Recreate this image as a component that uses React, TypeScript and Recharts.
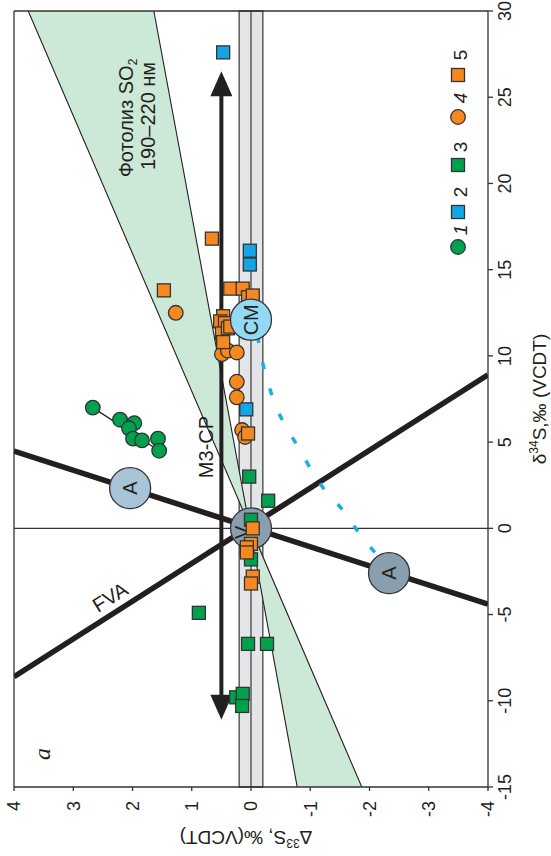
import React from 'react'
import {
  Area,
  ComposedChart,
  Line,
  ReferenceArea,
  ReferenceLine,
  Scatter,
  XAxis,
  YAxis,
} from 'recharts'

// chart is drawn "upright" (δ34S across, Δ33S up) and then turned 90° ccw
const W = 856
const H = 551

const d34Ticks = [-15, -10, -5, 0, 5, 10, 15, 20, 25, 30]
const d33Ticks = [-4, -3, -2, -1, 0, 1, 2, 3, 4]

// [δ34S, Δ33S]
const group1 = [[7.0, 2.67], [6.3, 2.21], [6.1, 1.97], [5.8, 2.06], [5.2, 1.99], [5.1, 1.84], [5.2, 1.57], [4.5, 1.55]]
const group1Trend = [[7.0, 2.67], [4.5, 1.55]]
const group2 = [[27.6, 0.47], [16.1, 0.02], [15.3, 0.02], [6.9, 0.08]]
const group3 = [[-4.9, 0.88], [-6.7, 0.05], [-6.7, -0.27], [-9.8, 0.25], [-9.6, 0.14], [-10.3, 0.15], [3.0, 0.03], [1.6, -0.29], [0.5, 0.0], [-1.8, 0.0]]
const group4 = [[12.5, 1.27], [10.1, 0.49], [10.3, 0.39], [10.2, 0.24], [8.5, 0.24], [7.6, 0.24], [5.7, 0.15], [5.3, 0.1]]
const group5 = [[13.8, 1.47], [16.8, 0.66], [13.9, 0.35], [13.9, 0.14], [13.4, 0.05], [13.5, -0.03], [12.3, 0.47], [12.0, 0.52], [11.9, 0.44], [11.3, 0.49], [11.6, 0.39], [10.8, 0.47], [11.7, 0.35], [5.5, 0.05], [0.0, -0.03], [-0.9, 0.0], [-1.1, 0.07], [-1.4, 0.07], [-2.8, -0.03], [-3.2, 0.0]]

const fvaLine = [[-8.6, 4], [8.9, -4]]
const aLine = [[-4.4, -4], [4.48, 4]]
const mixCurve = [[-1.4, -2.09], [-0.2, -1.81], [1.1, -1.54], [2.2, -1.25], [3.5, -1.0], [4.8, -0.78], [6.2, -0.54], [9.0, -0.24], [11.4, -0.1]]
const arrowShaft = [[-10.0, 0.5], [25.4, 0.5]]
const arrowTips = [{ x: 26.5, y: 0.5, dir: 1 }, { x: -11.1, y: 0.5, dir: -1 }]

// photolysis wedge: [low, high] Δ33S at a given δ34S
const photolysis = [
  { x: -15, v: [-1.87, -0.78] },
  { x: 0.2, v: [0.03, 0.03] },
  { x: 30, v: [1.64, 3.76] },
]

const nodes = [
  { x: 2.33, y: 2.04, label: 'A', fill: '#a8c4d7' },
  { x: 0, y: 0, label: 'V', fill: '#8a9fad' },
  { x: -2.6, y: -2.33, label: 'A', fill: '#8a9fad' },
]
const cmNode = [{ x: 12.1, y: 0, label: 'СМ', fill: '#93d8f4' }]

const pts = (a: number[][]) => a.map(([x, y]) => ({ x, y }))

const C = {
  green: '#00a14e',
  blue: '#14a6e4',
  orange: '#f5891f',
  edge: '#333',
  ink: '#231f20',
}
const font = '"Liberation Sans", Arial, sans-serif'

const sq = (fill: string) => (p: any) => (
  <rect x={p.cx - 6.5} y={p.cy - 6.5} width={13} height={13} fill={fill} stroke={C.edge} strokeWidth={1.3} />
)
const dot = (fill: string) => (p: any) => (
  <circle cx={p.cx} cy={p.cy} r={7.3} fill={fill} stroke={C.edge} strokeWidth={1.3} />
)
const nodeShape = (p: any) => (
  <g>
    <circle cx={p.cx} cy={p.cy} r={20.5} fill={p.payload.fill} stroke={C.edge} strokeWidth={1.3} />
    <text
      x={p.payload.label === 'V' ? p.cx - 4 : p.cx}
      y={p.payload.label === 'V' ? p.cy - 9 : p.cy}
      dy="0.36em"
      textAnchor="middle"
      fontSize={20}
      fill={C.ink}
      fontFamily={font}
    >
      {p.payload.label}
    </text>
  </g>
)
const headShape = (p: any) => {
  const b = p.cx - p.payload.dir * 25
  return <polygon points={`${p.cx},${p.cy} ${b},${p.cy - 11} ${b},${p.cy + 11}`} fill={C.ink} />
}

function Legend() {
  const y = 458
  return (
    <g fontFamily={font} fontSize={19} fill={C.ink}>
      <circle cx={609} cy={y} r={7.3} fill={C.green} stroke={C.edge} strokeWidth={1.3} />
      <text x={626} y={467} textAnchor="middle" fontStyle="italic">1</text>
      <rect x={644 - 6.5} y={y - 6.5} width={13} height={13} fill={C.blue} stroke={C.edge} strokeWidth={1.3} />
      <text x={664} y={467} textAnchor="middle">2</text>
      <rect x={691 - 6.5} y={y - 6.5} width={13} height={13} fill={C.green} stroke={C.edge} strokeWidth={1.3} />
      <text x={709} y={467} textAnchor="middle">3</text>
      <circle cx={739} cy={y} r={7.3} fill={C.orange} stroke={C.edge} strokeWidth={1.3} />
      <text x={758} y={467} textAnchor="middle" fontStyle="italic">4</text>
      <rect x={781 - 6.5} y={y - 6.5} width={13} height={13} fill={C.orange} stroke={C.edge} strokeWidth={1.3} />
      <text x={801} y={467} textAnchor="middle">5</text>
    </g>
  )
}

function Notes() {
  return (
    <svg width={W} height={H} style={{ position: 'absolute', left: 0, top: 0, pointerEvents: 'none' }}>
      <g fontFamily={font} fill={C.ink}>
        <text x={738} y={133} textAnchor="middle" fontSize={20}>
          Фотолиз SO<tspan fontSize={12} dy={4}>2</tspan>
        </text>
        <text x={740} y={155} textAnchor="middle" fontSize={20}>190–220 нм</text>
        <text x={409} y={213} textAnchor="middle" fontSize={20}>М3-СР</text>
        <text x={259} y={110} dy="0.36em" textAnchor="middle" fontSize={20} transform="rotate(58 259 110)">FVA</text>
        <text x={457} y={546} textAnchor="middle" fontSize={19}>
          δ<tspan fontSize={12} dy={-8}>34</tspan><tspan dy={8}>S,‰ (VCDT)</tspan>
        </text>
        <text textAnchor="middle" fontSize={19} transform="translate(25 246) rotate(-90)">
          Δ<tspan fontSize={12} dy={-8}>33</tspan><tspan dy={8}>S, ‰(VCDT)</tspan>
        </text>
      </g>
      <text x={102} y={50} textAnchor="middle" fontSize={24} fontStyle="italic" fontFamily='"Liberation Serif", serif' fill={C.ink}>a</text>
      <Legend />
    </svg>
  )
}

export default function App() {
  const axisStyle = { stroke: C.edge, strokeWidth: 1.3 }
  const tick = { fontSize: 18, fill: C.ink, fontFamily: font }
  return (
    <div style={{ position: 'absolute', left: 0, top: 0, width: H, height: W, overflow: 'hidden', background: '#fff' }}>
      <div
        style={{
          position: 'absolute',
          left: 0,
          top: 0,
          width: W,
          height: H,
          transformOrigin: '0 0',
          transform: `translate(0px, ${W}px) rotate(-90deg)`,
        }}
      >
        <ComposedChart width={W} height={H} margin={{ top: 14, right: 11, left: 0, bottom: 0 }}>
          <XAxis
            type="number"
            dataKey="x"
            domain={[-15, 30]}
            ticks={d34Ticks}
            interval={0}
            allowDataOverflow
            height={63}
            tick={tick}
            tickSize={5}
            tickMargin={5}
            axisLine={axisStyle}
            tickLine={axisStyle}
          />
          <YAxis
            type="number"
            dataKey="y"
            domain={[-4, 4]}
            ticks={d33Ticks}
            interval={0}
            allowDataOverflow
            width={69}
            tick={tick}
            tickSize={4}
            tickMargin={10}
            axisLine={axisStyle}
            tickLine={axisStyle}
          />
          <ReferenceArea x1={-15} x2={30} y1={-0.2} y2={0.2} fill="#e4e5e7" fillOpacity={1} stroke="#444" strokeWidth={1.3} />
          <Area
            data={photolysis}
            dataKey="v"
            type="linear"
            fill="#cce8d6"
            fillOpacity={1}
            stroke={C.ink}
            strokeWidth={1.1}
            isAnimationActive={false}
          />
          <ReferenceLine y={0} stroke="#444" strokeWidth={1.3} />
          <ReferenceLine x={0} stroke={C.edge} strokeWidth={1.2} />
          <ReferenceLine x={30} stroke={C.edge} strokeWidth={1.3} />
          <ReferenceLine y={4} stroke={C.edge} strokeWidth={1.3} />
          <Line data={pts(fvaLine)} dataKey="y" type="linear" stroke={C.ink} strokeWidth={5.5} dot={false} isAnimationActive={false} />
          <Line data={pts(aLine)} dataKey="y" type="linear" stroke={C.ink} strokeWidth={5.5} dot={false} isAnimationActive={false} />
          <Line data={pts(arrowShaft)} dataKey="y" type="linear" stroke={C.ink} strokeWidth={4} dot={false} isAnimationActive={false} />
          <Scatter data={arrowTips} shape={headShape} isAnimationActive={false} />
          <Scatter data={nodes} shape={nodeShape} isAnimationActive={false} />
          <Line data={pts(group1Trend)} dataKey="y" type="linear" stroke={C.ink} strokeWidth={1.2} dot={false} isAnimationActive={false} />
          <Scatter data={pts(group1)} shape={dot(C.green)} isAnimationActive={false} />
          <Scatter data={pts(group2)} shape={sq(C.blue)} isAnimationActive={false} />
          <Scatter data={pts(group3)} shape={sq(C.green)} isAnimationActive={false} />
          <Scatter data={pts(group4)} shape={dot(C.orange)} isAnimationActive={false} />
          <Scatter data={pts(group5)} shape={sq(C.orange)} isAnimationActive={false} />
          <Scatter data={cmNode} shape={nodeShape} isAnimationActive={false} />
          <Line
            data={pts(mixCurve)}
            dataKey="y"
            type="monotone"
            stroke="#1aaee6"
            strokeWidth={3.5}
            strokeDasharray="7 20"
            dot={false}
            isAnimationActive={false}
          />
        </ComposedChart>
        <Notes />
      </div>
    </div>
  )
}
